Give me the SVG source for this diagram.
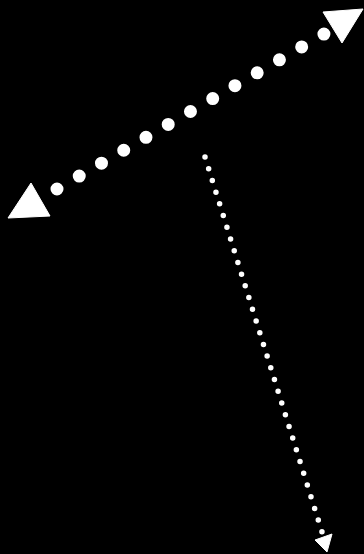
<svg xmlns="http://www.w3.org/2000/svg" width="364" height="554" viewBox="0 0 364 554">
<style>
.bg{fill:#000}
.dotsBig{fill:none;stroke:#fff;stroke-width:13;stroke-linecap:round;stroke-dasharray:0 25.72}
.dotsSmall{fill:none;stroke:#fff;stroke-width:5.5;stroke-linecap:round;stroke-dasharray:0 12.27}
.head{fill:#fff;stroke:#fff;stroke-width:1;stroke-linejoin:round}
</style>
<rect class="bg" x="0" y="0" width="364" height="554"/>
<g id="connectors">
<g id="edge-double">
<path class="dotsBig" d="M57,189 L324,34"/>
<polygon class="head" points="31,183 8,218 50,216"/>
<polygon class="head" points="323,12 363,9 342,43"/>
</g>
<g id="edge-single">
<path class="dotsSmall" d="M205,157 L322,532"/>
<polygon class="head" points="315,540 332,534 327,552"/>
</g>
</g>
</svg>
